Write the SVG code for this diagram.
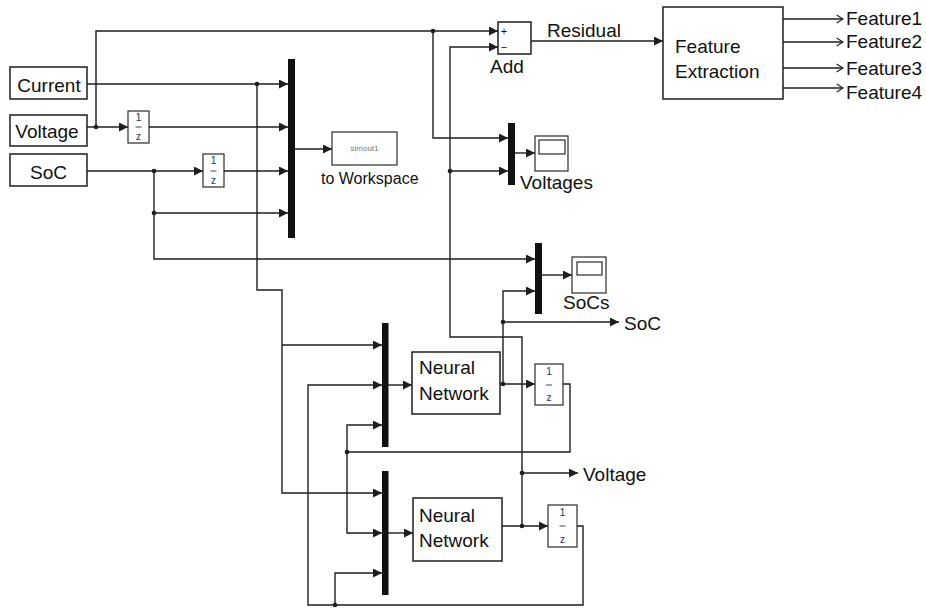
<svg xmlns="http://www.w3.org/2000/svg" width="926" height="610" viewBox="0 0 926 610">
<defs>
<marker id="arr" viewBox="0 0 10 10" refX="10" refY="5" markerWidth="10" markerHeight="9" markerUnits="userSpaceOnUse" orient="auto"><path d="M0,0 L10,5 L0,10 z" fill="#1e1e1e"/></marker>
<marker id="open" viewBox="0 0 10 12" refX="9" refY="6" markerWidth="8" markerHeight="10" markerUnits="userSpaceOnUse" orient="auto"><path d="M1,1 L9,6 L1,11" fill="none" stroke="#1e1e1e" stroke-width="1.4"/></marker>
<style>
.w{fill:none;stroke:#1e1e1e;stroke-width:1.4}
.a{marker-end:url(#arr)}
.f{marker-end:url(#open)}
.box{fill:#fff;stroke:#1e1e1e;stroke-width:1.5}
.sb{fill:#fff;stroke:#2a2a2a;stroke-width:1.2}
.bar{fill:#111}
.t{font-family:"Liberation Sans",Arial,sans-serif;font-size:19px;fill:#111}
.s{font-family:"Liberation Sans",Arial,sans-serif;font-size:10px;fill:#223355;text-anchor:middle}
.d{fill:#1e1e1e}
</style>
</defs>
<rect width="926" height="610" fill="#fff"/>
<g id="connectors">
<path class="w a" d="M87,84 H288"/>
<path class="w a" d="M257,84 V290 H282 V493 H382"/>
<path class="w a" d="M282,345 H382"/>
<path class="w a" d="M87,127 H128"/>
<path class="w a" d="M96,127 V31 H498"/>
<path class="w a" d="M149,127 H288"/>
<path class="w a" d="M87,171 H203"/>
<path class="w a" d="M224,171 H288"/>
<path class="w a" d="M154,171 V259 H535"/>
<path class="w a" d="M154,213 H288"/>
<path class="w a" d="M295,149 H332"/>
<path class="w a" d="M433,31 V138 H508"/>
<path class="w a" d="M522,526 V337 H450 V47 H498"/>
<path class="w a" d="M450,171 H508"/>
<path class="w a" d="M522,473 H578"/>
<path class="w a" d="M531,41 H663"/>
<path class="w a" d="M515,153 H535"/>
<path class="w a" d="M542,275 H572"/>
<path class="w a" d="M500,384 H535"/>
<path class="w a" d="M503,384 V291 H535"/>
<path class="w a" d="M503,322 H619"/>
<path class="w a" d="M563,384 H570 V452 H347 V533 H382"/>
<path class="w a" d="M347,452 V425 H382"/>
<path class="w a" d="M388,385 H412"/>
<path class="w a" d="M502,526 H548"/>
<path class="w a" d="M577,526 H583 V605 H308 V385 H382"/>
<path class="w a" d="M335,605 V573 H382"/>
<path class="w a" d="M388,533 H413"/>
<path class="w f" d="M783,19 H843"/>
<path class="w f" d="M783,42 H843"/>
<path class="w f" d="M783,68 H843"/>
<path class="w f" d="M783,88 H843"/>
<circle class="d" cx="96" cy="127" r="2.3"/>
<circle class="d" cx="257" cy="84" r="2.3"/>
<circle class="d" cx="154" cy="171" r="2.3"/>
<circle class="d" cx="154" cy="213" r="2.3"/>
<circle class="d" cx="433" cy="31" r="2.3"/>
<circle class="d" cx="450" cy="171" r="2.3"/>
<circle class="d" cx="503" cy="384" r="2.3"/>
<circle class="d" cx="503" cy="322" r="2.3"/>
<circle class="d" cx="347" cy="452" r="2.3"/>
<circle class="d" cx="522" cy="473" r="2.3"/>
<circle class="d" cx="522" cy="526" r="2.3"/>
<circle class="d" cx="335" cy="605" r="2.3"/>
</g>
<g id="current"><rect class="box" x="10" y="67" width="77" height="32"/><text class="t" x="49" y="92" text-anchor="middle">Current</text></g>
<g id="voltage"><rect class="box" x="10" y="115" width="77" height="31"/><text class="t" x="47" y="138" text-anchor="middle">Voltage</text></g>
<g id="soc"><rect class="box" x="10" y="154" width="77" height="32"/><text class="t" x="48.5" y="179" text-anchor="middle">SoC</text></g>
<g id="delay1"><rect class="sb" x="128" y="111" width="21" height="32"/><text class="s" x="138.5" y="121">1</text><line x1="135.5" y1="127" x2="141.5" y2="127" stroke="#223355" stroke-width="0.9"/><text class="s" x="138.5" y="140">z</text></g>
<g id="delay2"><rect class="sb" x="203" y="154" width="21" height="33"/><text class="s" x="213.5" y="164">1</text><line x1="210.5" y1="171" x2="216.5" y2="171" stroke="#223355" stroke-width="0.9"/><text class="s" x="213.5" y="184">z</text></g>
<g id="mux1"><rect class="bar" x="288" y="59" width="7" height="179"/></g>
<g id="toWorkspace"><rect class="sb" x="332" y="132" width="65" height="33"/><text x="364.5" y="151" text-anchor="middle" font-family="Liberation Sans, Arial, sans-serif" font-size="8" fill="#6a7a8a">simout1</text><text x="321" y="184" font-family="Liberation Sans, Arial, sans-serif" font-size="16" fill="#111">to Workspace</text></g>
<g id="add"><rect class="box" x="498" y="22" width="33" height="32"/><text x="504" y="35" font-family="Liberation Sans, Arial, sans-serif" font-size="11" fill="#111" text-anchor="middle">+</text><text x="504" y="51" font-family="Liberation Sans, Arial, sans-serif" font-size="11" fill="#111" text-anchor="middle">−</text><text class="t" x="490" y="73">Add</text></g>
<g id="residualLabel"><text class="t" x="547" y="37">Residual</text></g>
<g id="featureExtraction"><rect class="box" x="663" y="7" width="120" height="92"/><text class="t" x="675" y="53">Feature</text><text class="t" x="675" y="78">Extraction</text></g>
<g id="features"><text class="t" x="846" y="25">Feature1</text><text class="t" x="846" y="48">Feature2</text><text class="t" x="846" y="75">Feature3</text><text class="t" x="846" y="99">Feature4</text></g>
<g id="muxVoltages"><rect class="bar" x="508" y="123" width="7" height="62"/></g>
<g id="scopeVoltages"><rect class="sb" x="535" y="136" width="33" height="35"/><rect class="sb" x="539" y="140" width="26" height="14"/><text class="t" x="520" y="189">Voltages</text></g>
<g id="muxSoCs"><rect class="bar" x="535" y="243" width="7" height="71"/></g>
<g id="scopeSoCs"><rect class="sb" x="572" y="257" width="34" height="36"/><rect class="sb" x="577" y="262" width="25" height="13"/><text class="t" x="563" y="309">SoCs</text></g>
<g id="socOut"><text class="t" x="624" y="330">SoC</text></g>
<g id="muxNN1"><rect class="bar" x="382" y="323" width="6.5" height="124"/></g>
<g id="nn1"><rect class="box" x="412" y="352" width="88" height="62"/><text class="t" x="419" y="374">Neural</text><text class="t" x="419" y="400">Network</text></g>
<g id="delay3"><rect class="sb" x="535" y="364" width="28" height="41"/><text class="s" x="549" y="375">1</text><line x1="546" y1="385" x2="552" y2="385" stroke="#223355" stroke-width="0.9"/><text class="s" x="549" y="401">z</text></g>
<g id="voltageOut"><text class="t" x="583" y="481">Voltage</text></g>
<g id="muxNN2"><rect class="bar" x="382" y="471" width="6.5" height="124"/></g>
<g id="nn2"><rect class="box" x="413" y="498" width="89" height="63"/><text class="t" x="419" y="522">Neural</text><text class="t" x="419" y="547">Network</text></g>
<g id="delay4"><rect class="sb" x="548" y="505" width="29" height="42"/><text class="s" x="562.5" y="516">1</text><line x1="559.5" y1="526" x2="565.5" y2="526" stroke="#223355" stroke-width="0.9"/><text class="s" x="562.5" y="543">z</text></g>
</svg>
